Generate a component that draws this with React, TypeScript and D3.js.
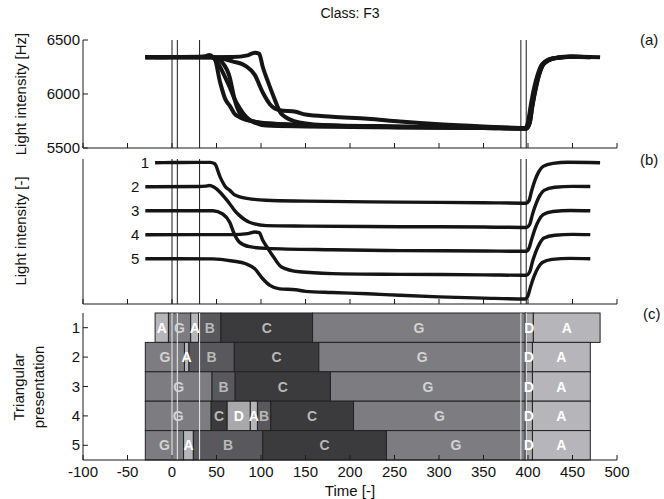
import * as d3 from "d3";

// ---- data ----
const xTickValues = [-100, -50, 0, 50, 100, 150, 200, 250, 300, 350, 400, 450, 500];
const hzTickValues = [5500, 6000, 6500];
const rowIds = [1, 2, 3, 4, 5];
const markerTimes = [0, 6, 31, 392, 398];

// [time, Hz]
const signal1: [number, number][] = [
  [-19, 6340], [0, 6342], [30, 6345], [43, 6345], [48, 6322], [54, 6110], [60, 5950],
  [65, 5890], [70, 5820], [76, 5785], [90, 5748], [106, 5730], [150, 5716], [256, 5700],
  [350, 5690], [398, 5682], [401, 5720], [404, 5880], [408, 6060], [412, 6190],
  [417, 6280], [428, 6330], [445, 6348], [481, 6340],
];
const signal2: [number, number][] = [
  [-30, 6340], [30, 6342], [38, 6350], [42, 6360], [47, 6335], [54, 6250], [60, 6150],
  [65, 6060], [70, 5960], [76, 5870], [87, 5762], [106, 5708], [150, 5700], [256, 5690],
  [350, 5685], [398, 5678], [402, 5730], [405, 5890], [409, 6060], [413, 6190],
  [418, 6280], [430, 6330], [450, 6345], [470, 6342],
];
const signal3: [number, number][] = [
  [-30, 6340], [46, 6340], [57, 6286], [65, 6150], [70, 5960], [76, 5825], [87, 5755],
  [106, 5728], [180, 5705], [256, 5692], [350, 5686], [398, 5680], [401, 5725],
  [404, 5870], [408, 6050], [412, 6180], [417, 6275], [428, 6328], [448, 6344], [470, 6340],
];
const signal4: [number, number][] = [
  [-30, 6340], [68, 6342], [85, 6358], [93, 6383], [98, 6372], [102, 6250], [108, 6110],
  [114, 5980], [123, 5815], [143, 5737], [180, 5708], [256, 5696], [350, 5688],
  [398, 5680], [402, 5740], [405, 5900], [409, 6070], [413, 6195], [418, 6285],
  [430, 6332], [450, 6346], [470, 6342],
];
const signal5: [number, number][] = [
  [-30, 6340], [46, 6338], [68, 6302], [83, 6258], [93, 6177], [102, 6014], [110, 5906],
  [121, 5850], [139, 5835], [150, 5810], [180, 5790], [220, 5770], [256, 5745],
  [300, 5720], [350, 5700], [397, 5686], [400, 5740], [403, 5890], [407, 6060],
  [411, 6185], [416, 6278], [427, 6330], [447, 6345], [470, 6340],
];
const signals = [signal1, signal2, signal3, signal4, signal5];
const stackStep = 390; // Hz shift between curves in panel (b)

// [state, start, end]
const row1: [string, number, number][] = [
  ["A", -19, -4], ["G", -4, 21], ["A", 21, 30], ["B", 30, 55], ["C", 55, 158],
  ["G", 158, 397], ["D", 397, 406], ["A", 406, 481],
];
const row2: [string, number, number][] = [
  ["G", -30, 14], ["A", 14, 19], ["B", 19, 70], ["C", 70, 165], ["G", 165, 397],
  ["D", 397, 405], ["A", 405, 470],
];
const row3: [string, number, number][] = [
  ["G", -30, 45], ["B", 45, 71], ["C", 71, 178], ["G", 178, 397], ["D", 397, 405],
  ["A", 405, 470],
];
const row4: [string, number, number][] = [
  ["G", -30, 44], ["C", 44, 62], ["D", 62, 88], ["A", 88, 96], ["B", 96, 111],
  ["C", 111, 204], ["G", 204, 397], ["D", 397, 405], ["A", 405, 470],
];
const row5: [string, number, number][] = [
  ["G", -30, 13], ["A", 13, 24], ["B", 24, 102], ["C", 102, 241], ["G", 241, 397],
  ["D", 397, 405], ["A", 405, 470],
];
const rows = [row1, row2, row3, row4, row5];

const stateFill: Record<string, string> = {
  A: "#b6b6ba", G: "#7d7d81", B: "#59595d", C: "#3b3b3e", D: "#a9a9ac",
};
const stateText: Record<string, string> = {
  A: "#ffffff", G: "#d2d2d2", B: "#b8b8b8", C: "#b8b8b8", D: "#ffffff",
};

// ---- layout ----
const W = 664;
const H = 499;
const FONT = "'Liberation Sans', Arial, sans-serif";
const ink = "#1a1a1a";

const x = d3.scaleLinear().domain([-100, 500]).range([83, 617]);
const yA = d3.scaleLinear().domain([5500, 6500]).range([148, 40]);
const yB = d3.scaleLinear().domain([4044, 6400]).range([304, 159]);
const yC = d3.scaleLinear().domain([0.5, 5.5]).range([313, 460]);

const lineA = d3
  .line<[number, number]>()
  .x((d) => x(d[0]))
  .y((d) => yA(d[1]))
  .curve(d3.curveMonotoneX);

const lineB = (k: number) =>
  d3
    .line<[number, number]>()
    .x((d) => x(d[0]))
    .y((d) => yB(d[1] - k * stackStep))
    .curve(d3.curveMonotoneX);

function XAxis({ y0, labels }: { y0: number; labels: boolean }) {
  return (
    <g>
      <line x1={x(-100)} x2={x(500)} y1={y0} y2={y0} stroke={ink} />
      {xTickValues.map((t) => (
        <g key={t}>
          <line x1={x(t)} x2={x(t)} y1={y0} y2={y0 - 5} stroke={ink} />
          {labels && (
            <text x={x(t)} y={y0 + 17} textAnchor="middle" fontSize={15} fill="#111">
              {t}
            </text>
          )}
        </g>
      ))}
    </g>
  );
}

export default function App() {
  return (
    <svg width={W} height={H} style={{ display: "block", background: "#fff" }} fontFamily={FONT}>
      <style>{`body{margin:0}`}</style>

      <text x={350} y={18} textAnchor="middle" fontSize={14} fill="#111">Class: F3</text>

      {/* panel (a) */}
      <g>
        {markerTimes.map((t) => (
          <line key={t} x1={x(t)} x2={x(t)} y1={yA(6500)} y2={yA(5500)} stroke={ink} strokeWidth={1} />
        ))}
        {signals.map((s, i) => (
          <path key={i} d={lineA(s) || ""} fill="none" stroke="#151515" strokeWidth={4} strokeLinejoin="round" />
        ))}
        <line x1={83} x2={83} y1={yA(6500)} y2={yA(5500)} stroke={ink} />
        {hzTickValues.map((v) => (
          <g key={v}>
            <line x1={83} x2={88} y1={yA(v)} y2={yA(v)} stroke={ink} />
            <text x={80} y={yA(v) + 5} textAnchor="end" fontSize={15} fill="#111">{v}</text>
          </g>
        ))}
        <XAxis y0={yA(5500)} labels={false} />
        <text transform={`translate(26,${(yA(6500) + yA(5500)) / 2}) rotate(-90)`} textAnchor="middle" fontSize={15} fill="#111">
          Light intensity [Hz]
        </text>
        <text x={640} y={45} fontSize={15} fill="#111">(a)</text>
      </g>

      {/* panel (b) */}
      <g>
        {markerTimes.map((t) => (
          <line key={t} x1={x(t)} x2={x(t)} y1={159} y2={304} stroke={ink} strokeWidth={1} />
        ))}
        {signals.map((s, i) => (
          <g key={i}>
            <path d={lineB(i)(s) || ""} fill="none" stroke="#151515" strokeWidth={3.4} strokeLinejoin="round" />
            <text x={x(s[0][0]) - 6} y={yB(s[0][1] - i * stackStep) + 5} textAnchor="end" fontSize={15} fill="#111">
              {rowIds[i]}
            </text>
          </g>
        ))}
        <line x1={83} x2={83} y1={159} y2={304} stroke={ink} />
        <XAxis y0={304} labels={false} />
        <text transform={`translate(26,231) rotate(-90)`} textAnchor="middle" fontSize={15} fill="#111">
          Light intensity [-]
        </text>
        <text x={640} y={165} fontSize={15} fill="#111">(b)</text>
      </g>

      {/* panel (c) */}
      <g>
        {rows.map((segs, r) =>
          segs.map(([s, a, b], j) => (
            <rect
              key={`${r}-${j}`}
              x={x(a)}
              y={yC(rowIds[r] - 0.5)}
              width={x(b) - x(a)}
              height={yC(rowIds[r] + 0.5) - yC(rowIds[r] - 0.5)}
              fill={stateFill[s]}
              stroke="#222"
              strokeWidth={1}
            />
          ))
        )}
        {markerTimes.map((t) => (
          <line key={t} x1={x(t)} x2={x(t)} y1={313} y2={460} stroke="#ececec" strokeWidth={1} />
        ))}
        {rows.map((segs, r) =>
          segs.map(([s, a, b], j) => (
            <text
              key={`t${r}-${j}`}
              x={(x(a) + x(b)) / 2}
              y={yC(rowIds[r]) + 5}
              textAnchor="middle"
              fontSize={14}
              fontWeight="bold"
              fill={stateText[s]}
            >
              {s}
            </text>
          ))
        )}
        <line x1={83} x2={83} y1={313} y2={460} stroke={ink} />
        {rowIds.map((r) => (
          <g key={r}>
            <line x1={83} x2={88} y1={yC(r)} y2={yC(r)} stroke={ink} />
            <text x={80} y={yC(r) + 5} textAnchor="end" fontSize={15} fill="#111">{r}</text>
          </g>
        ))}
        <XAxis y0={460} labels={true} />
        <text transform={`translate(24,387) rotate(-90)`} textAnchor="middle" fontSize={15} fill="#111">
          Triangular
        </text>
        <text transform={`translate(44,387) rotate(-90)`} textAnchor="middle" fontSize={15} fill="#111">
          presentation
        </text>
        <text x={643} y={319} fontSize={15} fill="#111">(c)</text>
        <text x={350} y={496} textAnchor="middle" fontSize={15} fill="#111">Time [-]</text>
      </g>
    </svg>
  );
}
